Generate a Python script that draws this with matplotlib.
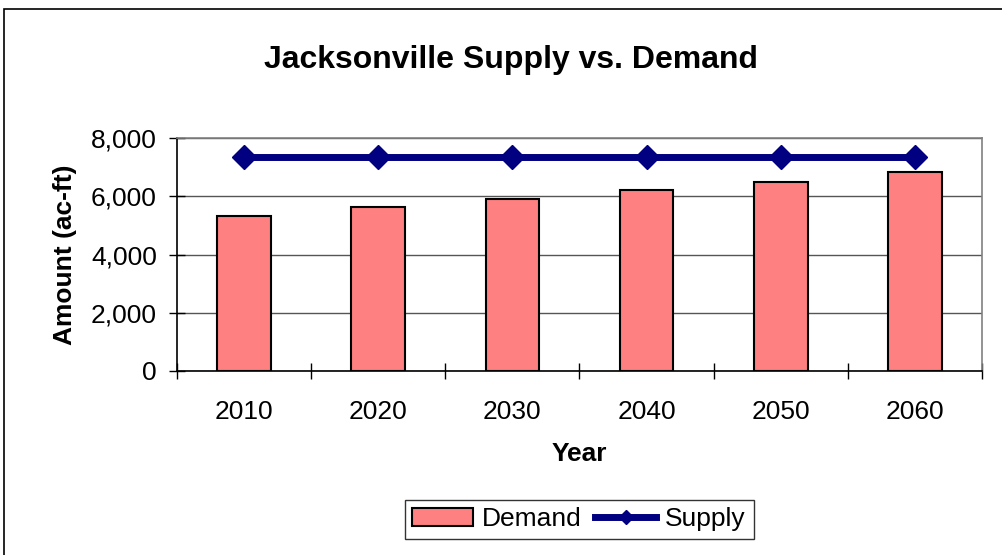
import matplotlib.pyplot as plt
import numpy as np
from matplotlib.patches import Rectangle
from matplotlib.ticker import FuncFormatter

plt.rcParams['font.family'] = ['Liberation Sans', 'DejaVu Sans']

years = ['2010', '2020', '2030', '2040', '2050', '2060']
demand = [5340, 5650, 5900, 6220, 6480, 6840]
supply = [7370, 7370, 7370, 7370, 7370, 7370]

fig = plt.figure(figsize=(10.02, 5.55), dpi=100)

# outer chart border, running off the right and bottom edges
fig.patches.append(Rectangle((4 / 1002, -0.1), 1.2, 1.1 - 9 / 555,
                             transform=fig.transFigure, fill=False,
                             edgecolor='black', linewidth=1.2))

ax = fig.add_axes([0.1766, 0.332, 0.8034, 0.4188])
x = np.arange(len(years))

bars = ax.bar(x, demand, width=0.4, color='#FF8080', edgecolor='black',
              linewidth=1.5, label='Demand', zorder=2)
line, = ax.plot(x, supply, color='#000080', linewidth=5, marker='D',
                markersize=12.5, label='Supply', zorder=3)

ax.set_xlim(-0.5, len(years) - 0.5)
ax.set_ylim(0, 8000)
ax.set_yticks(np.arange(0, 8001, 2000))
ax.yaxis.set_major_formatter(FuncFormatter(lambda v, _: f'{v:,.0f}'))
ax.yaxis.grid(True, color='#555555', linewidth=1, zorder=0)
ax.set_axisbelow(True)

# category labels centred, tick marks between categories
ax.set_xticks(x)
ax.set_xticklabels(years)
ax.set_xticks(np.arange(-0.5, len(years)), minor=True)
ax.tick_params(axis='x', which='major', length=0, pad=21, labelsize=19)
ax.tick_params(axis='x', which='minor', length=11, width=1,
               direction='inout')
ax.tick_params(axis='y', length=11, width=1, direction='inout', pad=9,
               labelsize=19)

for side in ('top', 'right'):
    ax.spines[side].set_color('#808080')
    ax.spines[side].set_linewidth(1.2)
for side in ('left', 'bottom'):
    ax.spines[side].set_color('black')
    ax.spines[side].set_linewidth(1.2)

ax.set_xlabel('Year', fontsize=19, fontweight='bold', labelpad=13)
ax.set_ylabel('Amount (ac-ft)', fontsize=19, fontweight='bold', labelpad=10)

fig.text(0.51, 0.892, 'Jacksonville Supply vs. Demand', ha='center',
         va='center', fontsize=23, fontweight='bold')

leg = fig.legend([bars, line], ['Demand', 'Supply'], loc='center',
                 bbox_to_anchor=(0.578, 0.064), ncol=2, fontsize=19,
                 frameon=True, fancybox=False, markerscale=0.6,
                 handlelength=2.3, handletextpad=0.35, columnspacing=0.5,
                 borderpad=0.3, borderaxespad=0)
leg.get_frame().set_edgecolor('black')
leg.get_frame().set_linewidth(1)

fig.savefig('out.png', dpi=100)
